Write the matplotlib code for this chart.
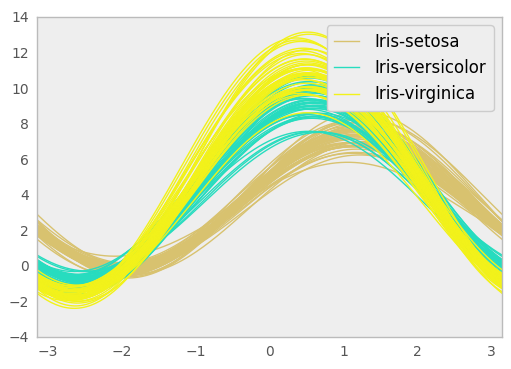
import matplotlib
matplotlib.use("Agg")
import matplotlib.pyplot as plt
import numpy as np

# Iris data: sepal length, sepal width, petal length, petal width
setosa = [
    [5.1, 3.5, 1.4, 0.2], [4.9, 3.0, 1.4, 0.2], [4.7, 3.2, 1.3, 0.2], [4.6, 3.1, 1.5, 0.2],
    [5.0, 3.6, 1.4, 0.2], [5.4, 3.9, 1.7, 0.4], [4.6, 3.4, 1.4, 0.3], [5.0, 3.4, 1.5, 0.2],
    [4.4, 2.9, 1.4, 0.2], [4.9, 3.1, 1.5, 0.1], [5.4, 3.7, 1.5, 0.2], [4.8, 3.4, 1.6, 0.2],
    [4.8, 3.0, 1.4, 0.1], [4.3, 3.0, 1.1, 0.1], [5.8, 4.0, 1.2, 0.2], [5.7, 4.4, 1.5, 0.4],
    [5.4, 3.9, 1.3, 0.4], [5.1, 3.5, 1.4, 0.3], [5.7, 3.8, 1.7, 0.3], [5.1, 3.8, 1.5, 0.3],
    [5.4, 3.4, 1.7, 0.2], [5.1, 3.7, 1.5, 0.4], [4.6, 3.6, 1.0, 0.2], [5.1, 3.3, 1.7, 0.5],
    [4.8, 3.4, 1.9, 0.2], [5.0, 3.0, 1.6, 0.2], [5.0, 3.4, 1.6, 0.4], [5.2, 3.5, 1.5, 0.2],
    [5.2, 3.4, 1.4, 0.2], [4.7, 3.2, 1.6, 0.2], [4.8, 3.1, 1.6, 0.2], [5.4, 3.4, 1.5, 0.4],
    [5.2, 4.1, 1.5, 0.1], [5.5, 4.2, 1.4, 0.2], [4.9, 3.1, 1.5, 0.1], [5.0, 3.2, 1.2, 0.2],
    [5.5, 3.5, 1.3, 0.2], [4.9, 3.1, 1.5, 0.1], [4.4, 3.0, 1.3, 0.2], [5.1, 3.4, 1.5, 0.2],
    [5.0, 3.5, 1.3, 0.3], [4.5, 2.3, 1.3, 0.3], [4.4, 3.2, 1.3, 0.2], [5.0, 3.5, 1.6, 0.6],
    [5.1, 3.8, 1.9, 0.4], [4.8, 3.0, 1.4, 0.3], [5.1, 3.8, 1.6, 0.2], [4.6, 3.2, 1.4, 0.2],
    [5.3, 3.7, 1.5, 0.2], [5.0, 3.3, 1.4, 0.2],
]
versicolor = [
    [7.0, 3.2, 4.7, 1.4], [6.4, 3.2, 4.5, 1.5], [6.9, 3.1, 4.9, 1.5], [5.5, 2.3, 4.0, 1.3],
    [6.5, 2.8, 4.6, 1.5], [5.7, 2.8, 4.5, 1.3], [6.3, 3.3, 4.7, 1.6], [4.9, 2.4, 3.3, 1.0],
    [6.6, 2.9, 4.6, 1.3], [5.2, 2.7, 3.9, 1.4], [5.0, 2.0, 3.5, 1.0], [5.9, 3.0, 4.2, 1.5],
    [6.0, 2.2, 4.0, 1.0], [6.1, 2.9, 4.7, 1.4], [5.6, 2.9, 3.6, 1.3], [6.7, 3.1, 4.4, 1.4],
    [5.6, 3.0, 4.5, 1.5], [5.8, 2.7, 4.1, 1.0], [6.2, 2.2, 4.5, 1.5], [5.6, 2.5, 3.9, 1.1],
    [5.9, 3.2, 4.8, 1.8], [6.1, 2.8, 4.0, 1.3], [6.3, 2.5, 4.9, 1.5], [6.1, 2.8, 4.7, 1.2],
    [6.4, 2.9, 4.3, 1.3], [6.6, 3.0, 4.4, 1.4], [6.8, 2.8, 4.8, 1.4], [6.7, 3.0, 5.0, 1.7],
    [6.0, 2.9, 4.5, 1.5], [5.7, 2.6, 3.5, 1.0], [5.5, 2.4, 3.8, 1.1], [5.5, 2.4, 3.7, 1.0],
    [5.8, 2.7, 3.9, 1.2], [6.0, 2.7, 5.1, 1.6], [5.4, 3.0, 4.5, 1.5], [6.0, 3.4, 4.5, 1.6],
    [6.7, 3.1, 4.7, 1.5], [6.3, 2.3, 4.4, 1.3], [5.6, 3.0, 4.1, 1.3], [5.5, 2.5, 4.0, 1.3],
    [5.5, 2.6, 4.4, 1.2], [6.1, 3.0, 4.6, 1.4], [5.8, 2.6, 4.0, 1.2], [5.0, 2.3, 3.3, 1.0],
    [5.6, 2.7, 4.2, 1.3], [5.7, 3.0, 4.2, 1.2], [5.7, 2.9, 4.2, 1.3], [6.2, 2.9, 4.3, 1.3],
    [5.1, 2.5, 3.0, 1.1], [5.7, 2.8, 4.1, 1.3],
]
virginica = [
    [6.3, 3.3, 6.0, 2.5], [5.8, 2.7, 5.1, 1.9], [7.1, 3.0, 5.9, 2.1], [6.3, 2.9, 5.6, 1.8],
    [6.5, 3.0, 5.8, 2.2], [7.6, 3.0, 6.6, 2.1], [4.9, 2.5, 4.5, 1.7], [7.3, 2.9, 6.3, 1.8],
    [6.7, 2.5, 5.8, 1.8], [7.2, 3.6, 6.1, 2.5], [6.5, 3.2, 5.1, 2.0], [6.4, 2.7, 5.3, 1.9],
    [6.8, 3.0, 5.5, 2.1], [5.7, 2.5, 5.0, 2.0], [5.8, 2.8, 5.1, 2.4], [6.4, 3.2, 5.3, 2.3],
    [6.5, 3.0, 5.5, 1.8], [7.7, 3.8, 6.7, 2.2], [7.7, 2.6, 6.9, 2.3], [6.0, 2.2, 5.0, 1.5],
    [6.9, 3.2, 5.7, 2.3], [5.6, 2.8, 4.9, 2.0], [7.7, 2.8, 6.7, 2.0], [6.3, 2.7, 4.9, 1.8],
    [6.7, 3.3, 5.7, 2.1], [7.2, 3.2, 6.0, 1.8], [6.2, 2.8, 4.8, 1.8], [6.1, 3.0, 4.9, 1.8],
    [6.4, 2.8, 5.6, 2.1], [7.2, 3.0, 5.8, 1.6], [7.4, 2.8, 6.1, 1.9], [7.9, 3.8, 6.4, 2.0],
    [6.4, 2.8, 5.6, 2.2], [6.3, 2.8, 5.1, 1.5], [6.1, 2.6, 5.6, 1.4], [7.7, 3.0, 6.1, 2.3],
    [6.3, 3.4, 5.6, 2.4], [6.4, 3.1, 5.5, 1.8], [6.0, 3.0, 4.8, 1.8], [6.9, 3.1, 5.4, 2.1],
    [6.7, 3.1, 5.6, 2.4], [6.9, 3.1, 5.1, 2.3], [5.8, 2.7, 5.1, 1.9], [6.8, 3.2, 5.9, 2.3],
    [6.7, 3.3, 5.7, 2.5], [6.7, 3.0, 5.2, 2.3], [6.3, 2.5, 5.0, 1.9], [6.5, 3.0, 5.2, 2.0],
    [6.2, 3.4, 5.4, 2.3], [5.9, 3.0, 5.1, 1.8],
]

species = ["Iris-setosa", "Iris-versicolor", "Iris-virginica"]
colors = ["#d8c26f", "#27dcbf", "#f2f21a"]


def andrews(row, t):
    # old pandas pairing: (x2, x3) form the first harmonic, x4 has no partner
    # and an even-length row adds no trailing sin term
    x1 = row[0]
    result = x1 / np.sqrt(2.0) + np.zeros_like(t)
    harmonic = 1.0
    for x_even, x_odd in zip(row[1::2], row[2::2]):
        result += x_even * np.sin(harmonic * t) + x_odd * np.cos(harmonic * t)
        harmonic += 1.0
    if len(row) % 2 != 0:
        result += row[-1] * np.sin(harmonic * t)
    return result


t = np.linspace(-np.pi, np.pi, 200)

fig = plt.figure(figsize=(5.11, 3.69), dpi=100)
ax = fig.add_axes([0.0724, 0.087, 0.910, 0.867])
ax.set_facecolor("#eeeeee")

for name, rows, c in zip(species, [setosa, versicolor, virginica], colors):
    for i, row in enumerate(rows):
        ax.plot(t, andrews(row, t), color=c, linewidth=1,
                label=name if i == 0 else None)

ax.set_xlim(-np.pi, np.pi)
ax.set_ylim(-4, 14)
ax.set_xticks(range(-3, 4))
ax.set_yticks(range(-4, 15, 2))
ax.tick_params(length=0, labelsize=10, labelcolor="#555555", pad=6)
for s in ax.spines.values():
    s.set_color("#bbbbbb")
    s.set_linewidth(1)

leg = ax.legend(loc="upper right", fontsize=12, frameon=True, fancybox=True,
                framealpha=1, handlelength=1.45, handletextpad=0.95, borderpad=0.45)
leg.get_frame().set_facecolor("#eeeeee")
leg.get_frame().set_edgecolor("#cccccc")

fig.savefig("out.png", dpi=100)
